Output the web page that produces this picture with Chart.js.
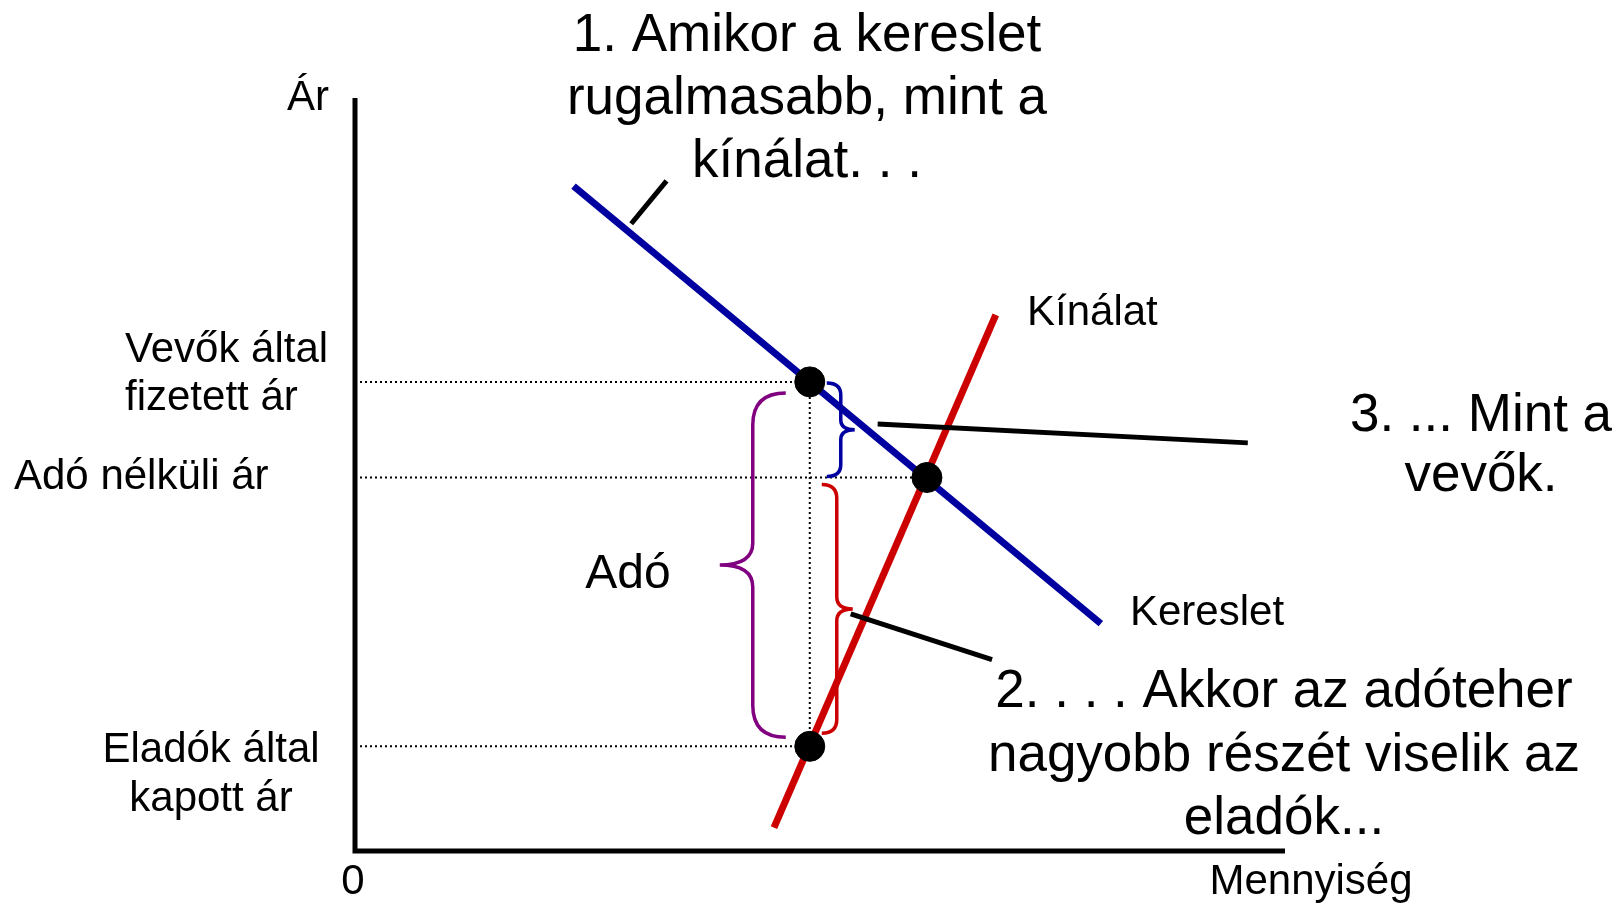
<!doctype html>
<html lang="hu">
<head>
<meta charset="UTF-8">
<title>Adóteher megoszlása</title>
<style>
  html, body { margin: 0; padding: 0; background: #fff; }
  canvas { display: block; }
</style>
</head>
<body>
<canvas id="ado-chart" width="1618" height="913"></canvas>
<script src="https://cdn.jsdelivr.net/npm/chart.js@4.4.1/dist/chart.umd.min.js"></script>
<script>
// kereslet és kínálat végpontjai (mennyiség / ár)
const keresletQ = [23.5, 80.2];
const keresletP = [88.3, 30.2];
const kinalatQ = [45.05, 68.9];
const kinalatP = [3.1, 71.2];

// adóval: mennyiség, vevők által fizetett és eladók által kapott ár
const adoQ = 48.9;
const arak = [62.3, 13.9];            // [vevő, eladó]
// adó nélküli egyensúly
const egyensuly = [61.5, 49.6];       // [Q, P]

// mutatóvonalak a magyarázó szövegekhez (mennyiség, ár)
const mutatok = [
  [[29.7, 83.3], [33.5, 89.0]],
  [[56.2, 56.7], [96.0, 54.2]],
  [[53.3, 31.5], [68.5, 25.4]]
];

const szoveg1 = ['1. Amikor a kereslet', 'rugalmasabb, mint a', 'kínálat. . .'];
const szoveg2 = ['2. . . . Akkor az adóteher', 'nagyobb részét viselik az', 'eladók...'];
const szoveg3 = ['3. ... Mint a', 'vevők.'];

const FONT = '"Liberation Sans", Arial, sans-serif';
const KEK = '#0000a0', PIROS = '#cc0000', LILA = '#800080';

const pts = (qs, ps) => qs.map((q, i) => ({x: q, y: ps[i]}));

// kapcsos zárójel függőlegesen: végek xe-nél, gerinc xs-nél, csúcs xt-nél
function kapocs(ctx, xe, xs, xt, y1, y2, r, rt, szin) {
  const ym = (y1 + y2) / 2;
  ctx.beginPath();
  ctx.moveTo(xe, y1);
  ctx.quadraticCurveTo(xs, y1, xs, y1 + r);
  ctx.lineTo(xs, ym - rt);
  ctx.quadraticCurveTo(xs, ym, xt, ym);
  ctx.quadraticCurveTo(xs, ym, xs, ym + rt);
  ctx.lineTo(xs, y2 - r);
  ctx.quadraticCurveTo(xs, y2, xe, y2);
  ctx.strokeStyle = szin;
  ctx.lineWidth = 3.5;
  ctx.stroke();
}

function sorok(ctx, lines, x, y0, lh, align, size) {
  ctx.font = size + 'px ' + FONT;
  ctx.textAlign = align;
  ctx.textBaseline = 'alphabetic';
  lines.forEach((t, i) => ctx.fillText(t, x, y0 + i * lh));
}

const rajz = {
  id: 'rajz',
  afterDatasetsDraw(chart) {
    const {ctx, chartArea: a, scales: {x, y}} = chart;
    const qx = x.getPixelForValue(adoQ);
    const pv = y.getPixelForValue(arak[0]);
    const pe = y.getPixelForValue(arak[1]);
    const p0 = y.getPixelForValue(egyensuly[1]);
    ctx.save();

    // tengelyek
    ctx.strokeStyle = '#000';
    ctx.lineWidth = 5;
    ctx.lineJoin = 'miter';
    ctx.beginPath();
    ctx.moveTo(a.left, a.top);
    ctx.lineTo(a.left, a.bottom);
    ctx.lineTo(a.right, a.bottom);
    ctx.stroke();

    // adó és megoszlása
    kapocs(ctx, qx - 24, qx - 57, qx - 90, pv + 11, pe - 9, 32, 22, LILA);
    kapocs(ctx, qx + 17, qx + 31, qx + 45, pv + 1, p0 - 1, 12, 10, KEK);
    kapocs(ctx, qx + 12, qx + 27, qx + 43, p0 + 7, pe - 13, 14, 12, PIROS);

    // mutatóvonalak
    ctx.strokeStyle = '#000';
    ctx.lineWidth = 5;
    ctx.lineCap = 'butt';
    mutatok.forEach(([p, q]) => {
      ctx.beginPath();
      ctx.moveTo(x.getPixelForValue(p[0]), y.getPixelForValue(p[1]));
      ctx.lineTo(x.getPixelForValue(q[0]), y.getPixelForValue(q[1]));
      ctx.stroke();
    });

    // feliratok
    ctx.fillStyle = '#000';
    sorok(ctx, ['Ár'], a.left - 47, 110, 0, 'center', 42);
    sorok(ctx, ['0'], a.left - 2, 894, 0, 'center', 42);
    sorok(ctx, ['Mennyiség'], 1311, 894, 0, 'center', 42);
    sorok(ctx, ['Kínálat'], 1027, 325, 0, 'left', 42);
    sorok(ctx, ['Kereslet'], 1130, 625, 0, 'left', 42);
    sorok(ctx, ['Vevők által', 'fizetett ár'], 125, pv - 20, 48, 'left', 42);
    sorok(ctx, ['Adó nélküli ár'], 14, p0 + 11, 0, 'left', 42);
    sorok(ctx, ['Eladók által', 'kapott ár'], 211, pe + 16, 49, 'center', 42);
    sorok(ctx, ['Adó'], 628, 588, 0, 'center', 48);
    sorok(ctx, szoveg1, 807, 51, 63, 'center', 53);
    sorok(ctx, szoveg2, 1284, 707, 63.5, 'center', 53);
    sorok(ctx, szoveg3, 1481, 431, 60, 'center', 53);
    ctx.restore();
  }
};

const pontozott = {
  borderColor: '#000', borderWidth: 2, borderDash: [2, 3],
  pointRadius: 0, showLine: true, fill: false, order: 3
};

new Chart(document.getElementById('ado-chart'), {
  type: 'scatter',
  data: {
    datasets: [
      {
        label: 'Piaci árak',
        data: [{x: adoQ, y: arak[0]}, {x: adoQ, y: arak[1]}, {x: egyensuly[0], y: egyensuly[1]}],
        backgroundColor: '#000', borderColor: '#000',
        pointRadius: 15, pointHoverRadius: 15, order: 0
      },
      {
        label: 'Kereslet',
        data: pts(keresletQ, keresletP),
        showLine: true, borderColor: KEK, borderWidth: 7,
        pointRadius: 0, order: 1
      },
      {
        label: 'Kínálat',
        data: pts(kinalatQ, kinalatP),
        showLine: true, borderColor: PIROS, borderWidth: 7,
        pointRadius: 0, order: 1
      },
      Object.assign({label: 'vevő ár', data: [{x: 0, y: arak[0]}, {x: adoQ, y: arak[0]}]}, pontozott),
      Object.assign({label: 'adó nélküli ár', data: [{x: 0, y: egyensuly[1]}, {x: egyensuly[0], y: egyensuly[1]}]}, pontozott),
      Object.assign({label: 'eladó ár', data: [{x: 0, y: arak[1]}, {x: adoQ, y: arak[1]}]}, pontozott),
      Object.assign({label: 'mennyiség', data: [{x: adoQ, y: arak[0]}, {x: adoQ, y: arak[1]}]}, pontozott)
    ]
  },
  options: {
    responsive: false,
    devicePixelRatio: 1,
    animation: false,
    layout: { padding: { left: 355, right: 333, top: 98, bottom: 62 } },
    scales: {
      x: { type: 'linear', min: 0, max: 100, display: false },
      y: { type: 'linear', min: 0, max: 100, display: false }
    },
    plugins: {
      legend: { display: false },
      tooltip: { enabled: false }
    }
  },
  plugins: [rajz]
});
</script>
</body>
</html>
